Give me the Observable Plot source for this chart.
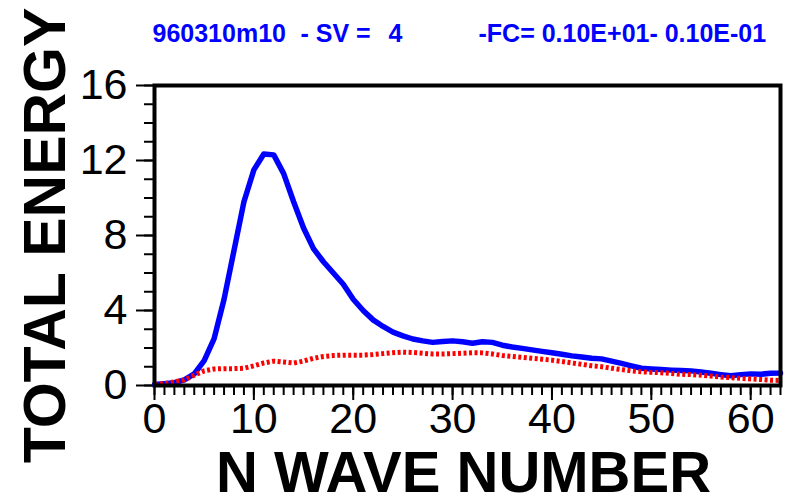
<!DOCTYPE html>
<html>
<head>
<meta charset="utf-8">
<script src="https://cdn.jsdelivr.net/npm/d3@7"></script>
<script src="https://cdn.jsdelivr.net/npm/@observablehq/plot@0.6"></script>
<style>
  html, body { margin: 0; padding: 0; background: #fff; }
  #chart svg { display: block; overflow: visible; }
</style>
</head>
<body>
<div id="chart"></div>
<script>
// Wave numbers 0..63
const waveNumber = [0,1,2,3,4,5,6,7,8,9,10,11,12,13,14,15,16,17,18,19,20,21,22,23,24,25,26,27,28,29,30,31,
  32,33,34,35,36,37,38,39,40,41,42,43,44,45,46,47,48,49,50,51,52,53,54,55,56,57,58,59,60,61,62,63];
// Blue (solid) series
const energyBlue = [0.05,0.1,0.15,0.3,0.62,1.33,2.5,4.6,7.2,9.8,11.5,12.35,12.3,11.3,9.8,8.4,7.3,6.6,6.0,5.4,
  4.6,4.0,3.5,3.15,2.85,2.65,2.48,2.38,2.3,2.35,2.38,2.33,2.25,2.33,2.3,2.15,2.05,1.98,1.9,1.82,
  1.75,1.67,1.58,1.52,1.45,1.42,1.3,1.18,1.05,0.92,0.88,0.85,0.82,0.8,0.78,0.72,0.65,0.58,0.52,0.58,
  0.62,0.6,0.65,0.66];
// Red (dotted) series
const energyRed = [0.05,0.1,0.2,0.3,0.55,0.78,0.88,0.9,0.9,0.92,1.05,1.2,1.3,1.25,1.2,1.3,1.45,1.55,1.6,1.62,
  1.62,1.62,1.65,1.7,1.75,1.78,1.76,1.72,1.68,1.68,1.7,1.72,1.75,1.74,1.68,1.6,1.55,1.5,1.45,1.4,
  1.35,1.28,1.2,1.13,1.05,1.0,0.92,0.85,0.78,0.73,0.7,0.68,0.64,0.6,0.58,0.55,0.5,0.45,0.42,0.38,
  0.35,0.32,0.28,0.27];

const xMajorTicks = [0,10,20,30,40,50,60];
const xMinorTicks = d3.range(0, 64, 1);
const yMajorTicks = [0,4,8,12,16];
const yMinorTicks = d3.range(0, 17, 1);

const titleLeft = "960310m10";
const titleMid = "- SV =";
const titleNum = "4";
const titleRight = "-FC= 0.10E+01- 0.10E-01";
const yLabel = "TOTAL ENERGY";
const xLabel = "N WAVE NUMBER";

const blueData = waveNumber.map((n, i) => ({n, v: energyBlue[i]}));
const redData = waveNumber.map((n, i) => ({n, v: energyRed[i]}));

const font = "'Liberation Sans', Arial, Helvetica, sans-serif";
const titleStyle = {fontSize: 25, fontWeight: "bold", fill: "#0000ff", frameAnchor: "top-left", lineAnchor: "middle"};

const chart = Plot.plot({
  width: 788,
  height: 500,
  marginLeft: 154,
  marginRight: 8,
  marginTop: 85,
  marginBottom: 115,
  style: {fontFamily: font, background: "#fff", color: "#000"},
  x: {domain: [0, 63]},
  y: {domain: [0, 16]},
  marks: [
    Plot.axisY({ticks: yMinorTicks, tickSize: 10, text: null, strokeWidth: 2, label: null}),
    Plot.axisY({ticks: yMajorTicks, tickSize: 18, tickPadding: 9, fontSize: 43, strokeWidth: 2, label: null}),
    Plot.axisX({ticks: xMinorTicks, tickSize: 10, text: null, strokeWidth: 2, label: null}),
    Plot.axisX({ticks: xMajorTicks, tickSize: 15, tickPadding: 2, fontSize: 43, strokeWidth: 2, label: null}),
    Plot.line(blueData, {x: "n", y: "v", stroke: "#0000ff", strokeWidth: 5.5, strokeLinejoin: "round"}),
    Plot.line(redData, {x: "n", y: "v", stroke: "#ff0000", strokeWidth: 5, strokeDasharray: "3 2.5", strokeLinecap: "butt"}),
    Plot.frame({stroke: "#000", strokeWidth: 4}),
    Plot.text([yLabel], {text: d => d, frameAnchor: "left", rotate: -90, dx: -108, fontSize: 59, fontWeight: "bold", lineAnchor: "middle", textAnchor: "middle", fill: "#000"}),
    Plot.text([xLabel], {text: d => d, frameAnchor: "bottom", dx: -4, dy: 88, fontSize: 58, fontWeight: "bold", lineAnchor: "middle", textAnchor: "middle", fill: "#000"}),
    Plot.text([titleLeft], {text: d => d, ...titleStyle, dx: -2, dy: -52, textAnchor: "start", letterSpacing: 2}),
    Plot.text([titleMid], {text: d => d, ...titleStyle, dx: 146, dy: -52, textAnchor: "start", letterSpacing: 1}),
    Plot.text([titleNum], {text: d => d, ...titleStyle, dx: 248, dy: -52, textAnchor: "end"}),
    Plot.text([titleRight], {text: d => d, ...titleStyle, dx: 324, dy: -52, textAnchor: "start"})
  ]
});
document.getElementById("chart").appendChild(chart);
</script>
</body>
</html>
